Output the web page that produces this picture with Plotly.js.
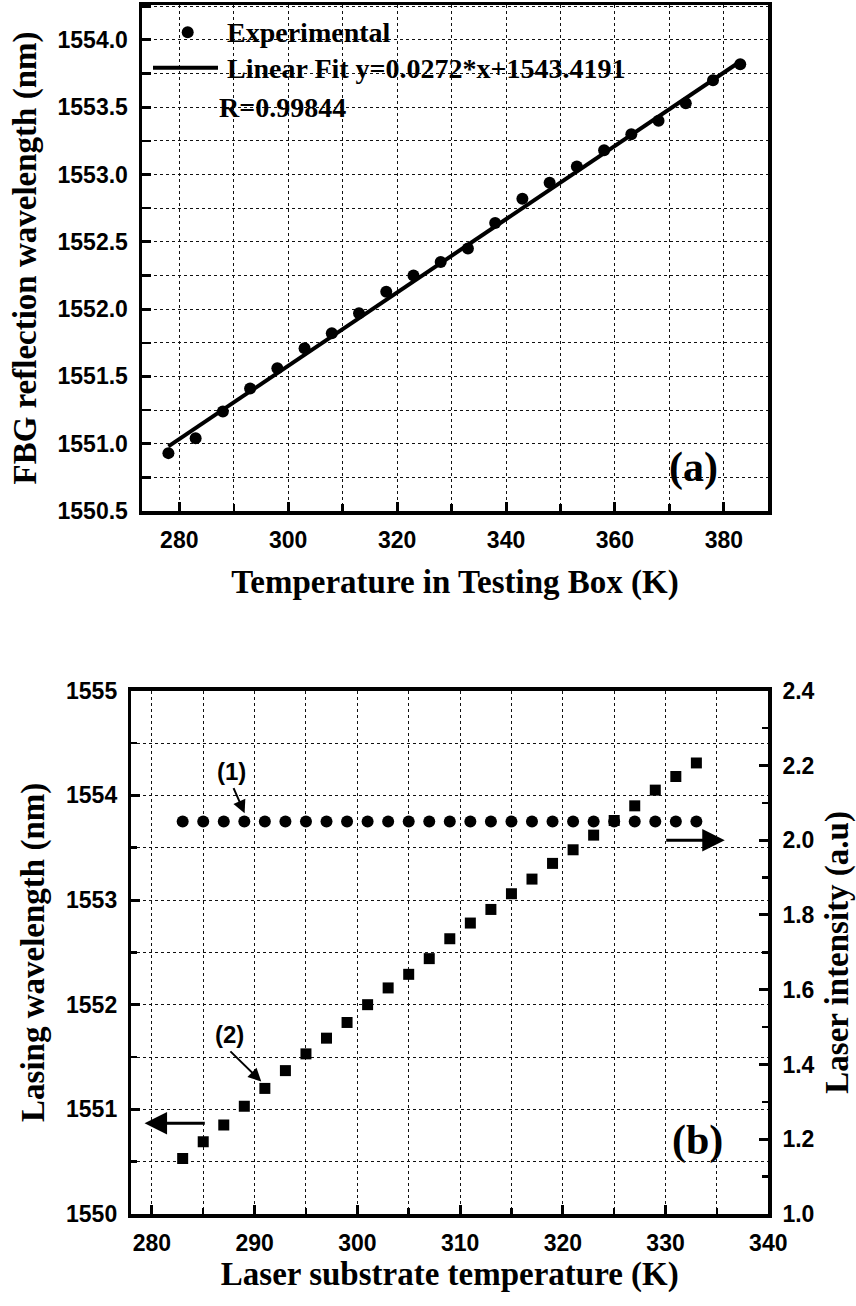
<!DOCTYPE html>
<html>
<head>
<meta charset="utf-8">
<script src="https://cdn.plot.ly/plotly-3.0.1.min.js"></script>
<style>html,body{margin:0;padding:0;background:#fff;}#chart{width:856px;height:1306px;}</style>
</head>
<body>
<div id="chart"></div>
<script>
// ---- Panel (a) data ----
const boxTemp = [278,283,288,293,298,303,308,313,318,323,328,333,338,343,348,353,358,363,368,373,378,383];
const fbgWavelength = [1550.93,1551.04,1551.24,1551.41,1551.56,1551.71,1551.82,1551.97,1552.13,1552.25,1552.35,1552.45,1552.64,1552.82,1552.94,1553.06,1553.18,1553.30,1553.40,1553.53,1553.70,1553.82];
const fitTemp = [278, 383];
const fitWavelength = [1550.98, 1553.84];
const aXTicks = [280, 300, 320, 340, 360, 380];
const aXTickText = ['280', '300', '320', '340', '360', '380'];
const aYTicks = [1550.5, 1551.0, 1551.5, 1552.0, 1552.5, 1553.0, 1553.5, 1554.0];
const aYTickText = ['1550.5', '1551.0', '1551.5', '1552.0', '1552.5', '1553.0', '1553.5', '1554.0'];

// ---- Panel (b) data ----
const substrateTemp = [283,285,287,289,291,293,295,297,299,301,303,305,307,309,311,313,315,317,319,321,323,325,327,329,331,333];
const laserIntensity = [2.05,2.05,2.05,2.05,2.05,2.05,2.05,2.05,2.05,2.05,2.05,2.05,2.05,2.05,2.05,2.05,2.05,2.05,2.05,2.05,2.05,2.05,2.05,2.05,2.05,2.05];
const lasingWavelength = [1550.53,1550.69,1550.85,1551.03,1551.20,1551.37,1551.53,1551.68,1551.83,1552.00,1552.16,1552.29,1552.44,1552.63,1552.78,1552.91,1553.06,1553.20,1553.35,1553.48,1553.62,1553.76,1553.90,1554.05,1554.18,1554.31];
const bXTicks = [280, 290, 300, 310, 320, 330, 340];
const bXTickText = ['280', '290', '300', '310', '320', '330', '340'];
const bYTicks = [1550, 1551, 1552, 1553, 1554, 1555];
const bYTickText = ['1550', '1551', '1552', '1553', '1554', '1555'];
const bY2Ticks = [1.0, 1.2, 1.4, 1.6, 1.8, 2.0, 2.2, 2.4];
const bY2TickText = ['1.0', '1.2', '1.4', '1.6', '1.8', '2.0', '2.2', '2.4'];

const W = 856, H = 1306;
const px = v => v / W;
const py = v => 1 - v / H;
const bold = arr => arr.map(s => '<b>' + s + '</b>');

const tickFont = {family: 'Liberation Sans, Arial, sans-serif', size: 23, color: '#000', weight: 'bold'};
const titleFont = {family: 'Liberation Serif, Times New Roman, serif', size: 33, color: '#000', weight: 'bold'};
const gridStyle = {showgrid: true, gridcolor: '#111', gridwidth: 1, griddash: 'dot'};

function minorCfg(dtick, tick0, len, grid) {
  return {dtick: dtick, tick0: tick0, ticks: 'inside', ticklen: len, tickwidth: 2.5, tickcolor: '#000',
          showgrid: grid, gridcolor: '#111', gridwidth: 1, griddash: 'dot'};
}

function axisBase(extra) {
  return Object.assign({
    showline: true, linecolor: '#000', linewidth: 3.5,
    ticks: 'inside', ticklen: 9, tickwidth: 3, tickcolor: '#000',
    tickfont: tickFont, zeroline: false, automargin: false,
    ticklabelstandoff: 6, tickmode: 'array'
  }, gridStyle, extra);
}

const traces = [
  {x: boxTemp, y: fbgWavelength, xaxis: 'x', yaxis: 'y', mode: 'markers', type: 'scatter',
   name: 'Experimental', marker: {symbol: 'circle', size: 12, color: '#000'}},
  {x: fitTemp, y: fitWavelength, xaxis: 'x', yaxis: 'y', mode: 'lines', type: 'scatter',
   name: 'Linear Fit', line: {color: '#000', width: 4}},
  {x: substrateTemp, y: lasingWavelength, xaxis: 'x2', yaxis: 'y2', mode: 'markers', type: 'scatter',
   name: 'Lasing wavelength', marker: {symbol: 'square', size: 11, color: '#000'}},
  {x: substrateTemp, y: laserIntensity, xaxis: 'x2', yaxis: 'y3', mode: 'markers', type: 'scatter',
   name: 'Laser intensity', marker: {symbol: 'circle', size: 12, color: '#000'}}
];

const annFont = (size, fam) => ({family: fam, size: size, color: '#000', weight: 'bold'});

const layout = {
  width: W, height: H,
  margin: {l: 0, r: 0, t: 0, b: 0},
  paper_bgcolor: '#fff', plot_bgcolor: '#fff',
  showlegend: false,
  xaxis: axisBase({
    domain: [px(142), px(768)], anchor: 'y', range: [273.15, 388.1],
    tickvals: aXTicks, ticktext: bold(aXTickText), mirror: true,
    minor: minorCfg(10, 280, 7, true),
    title: {text: 'Temperature in Testing Box (K)', font: titleFont, standoff: 19}
  }),
  yaxis: axisBase({
    domain: [py(511), py(5)], anchor: 'x', range: [1550.5, 1554.26],
    tickvals: aYTicks, ticktext: bold(aYTickText), mirror: true,
    minor: minorCfg(0.25, 1550.5, 9, true),
    title: {text: 'FBG reflection wavelength (nm)', font: titleFont, standoff: 12}
  }),
  xaxis2: axisBase({
    domain: [px(131.3), px(768.3)], anchor: 'y2', range: [278, 340],
    tickvals: bXTicks, ticktext: bold(bXTickText), mirror: true,
    minor: minorCfg(5, 280, 6, true),
    title: {text: 'Laser substrate temperature (K)', font: titleFont, standoff: 5}
  }),
  yaxis2: axisBase({
    domain: [py(1214), py(690.7)], anchor: 'x2', range: [1550, 1555],
    tickvals: bYTicks, ticktext: bold(bYTickText),
    minor: minorCfg(0.5, 1550, 6, true),
    title: {text: 'Lasing wavelength (nm)', font: titleFont, standoff: 12}
  }),
  yaxis3: axisBase({
    overlaying: 'y2', side: 'right', anchor: 'x2', range: [1.0, 2.4],
    tickvals: bY2Ticks, ticktext: bold(bY2TickText), showgrid: false,
    minor: minorCfg(0.1, 1.0, 6, false),
    title: {text: 'Laser intensity (a.u)', font: titleFont, standoff: 12}
  }),
  shapes: [
    // legend glyphs for panel (a)
    {type: 'line', xref: 'paper', yref: 'paper', x0: px(153), x1: px(218), y0: py(67.7), y1: py(67.7),
     line: {color: '#000', width: 4}},
    {type: 'circle', xref: 'paper', yref: 'paper', x0: px(181.7), x1: px(193.7), y0: py(38.3), y1: py(26.3),
     fillcolor: '#000', line: {color: '#000', width: 0}}
  ],
  annotations: [
    {xref: 'paper', yref: 'paper', x: px(225), y: py(32), xanchor: 'left', yanchor: 'middle', showarrow: false,
     text: 'Experimental', font: annFont(28, titleFont.family)},
    {xref: 'paper', yref: 'paper', x: px(225), y: py(68), xanchor: 'left', yanchor: 'middle', showarrow: false,
     text: 'Linear Fit y=0.0272*x+1543.4191', font: annFont(28, titleFont.family)},
    {xref: 'paper', yref: 'paper', x: px(217), y: py(107), xanchor: 'left', yanchor: 'middle', showarrow: false,
     text: 'R=0.99844', font: annFont(28, titleFont.family)},
    {xref: 'paper', yref: 'paper', x: px(693), y: py(467), xanchor: 'center', yanchor: 'middle', showarrow: false,
     text: '(a)', font: annFont(42, titleFont.family)},
    {xref: 'paper', yref: 'paper', x: px(697), y: py(1140), xanchor: 'center', yanchor: 'middle', showarrow: false,
     text: '(b)', font: annFont(42, titleFont.family)},
    // labels (1), (2)
    {xref: 'x2', yref: 'y2', x: 287.73, y: 1554.226, showarrow: false, text: '<b>(1)</b>',
     font: annFont(24, tickFont.family)},
    {xref: 'x2', yref: 'y2', x: 287.57, y: 1551.711, showarrow: false, text: '<b>(2)</b>',
     font: annFont(24, tickFont.family)},
    // pointer arrows
    {xref: 'x2', yref: 'y2', axref: 'x2', ayref: 'y2', x: 289.03, y: 1553.829, ax: 287.89, ay: 1554.083,
     text: '', showarrow: true, arrowhead: 2, arrowsize: 1.3, arrowwidth: 2, arrowcolor: '#000', standoff: 0, startstandoff: 0},
    {xref: 'x2', yref: 'y2', axref: 'x2', ayref: 'y2', x: 290.65, y: 1551.266, ax: 287.5, ay: 1551.568,
     text: '', showarrow: true, arrowhead: 2, arrowsize: 1.3, arrowwidth: 2, arrowcolor: '#000', standoff: 0, startstandoff: 0},
    // axis indicator arrows
    {xref: 'x2', yref: 'y3', axref: 'x2', ayref: 'y3', x: 335.76, y: 2.0, ax: 329.92, ay: 2.0,
     text: '', showarrow: true, arrowhead: 2, arrowsize: 1.5, arrowwidth: 3, arrowcolor: '#000', standoff: 0, startstandoff: 0},
    {xref: 'x2', yref: 'y2', axref: 'x2', ayref: 'y2', x: 279.29, y: 1550.868, ax: 285.3, ay: 1550.868,
     text: '', showarrow: true, arrowhead: 2, arrowsize: 1.5, arrowwidth: 3, arrowcolor: '#000', standoff: 0, startstandoff: 0}
  ]
};

Plotly.newPlot('chart', traces, layout, {staticPlot: true, displayModeBar: false});
</script>
</body>
</html>
